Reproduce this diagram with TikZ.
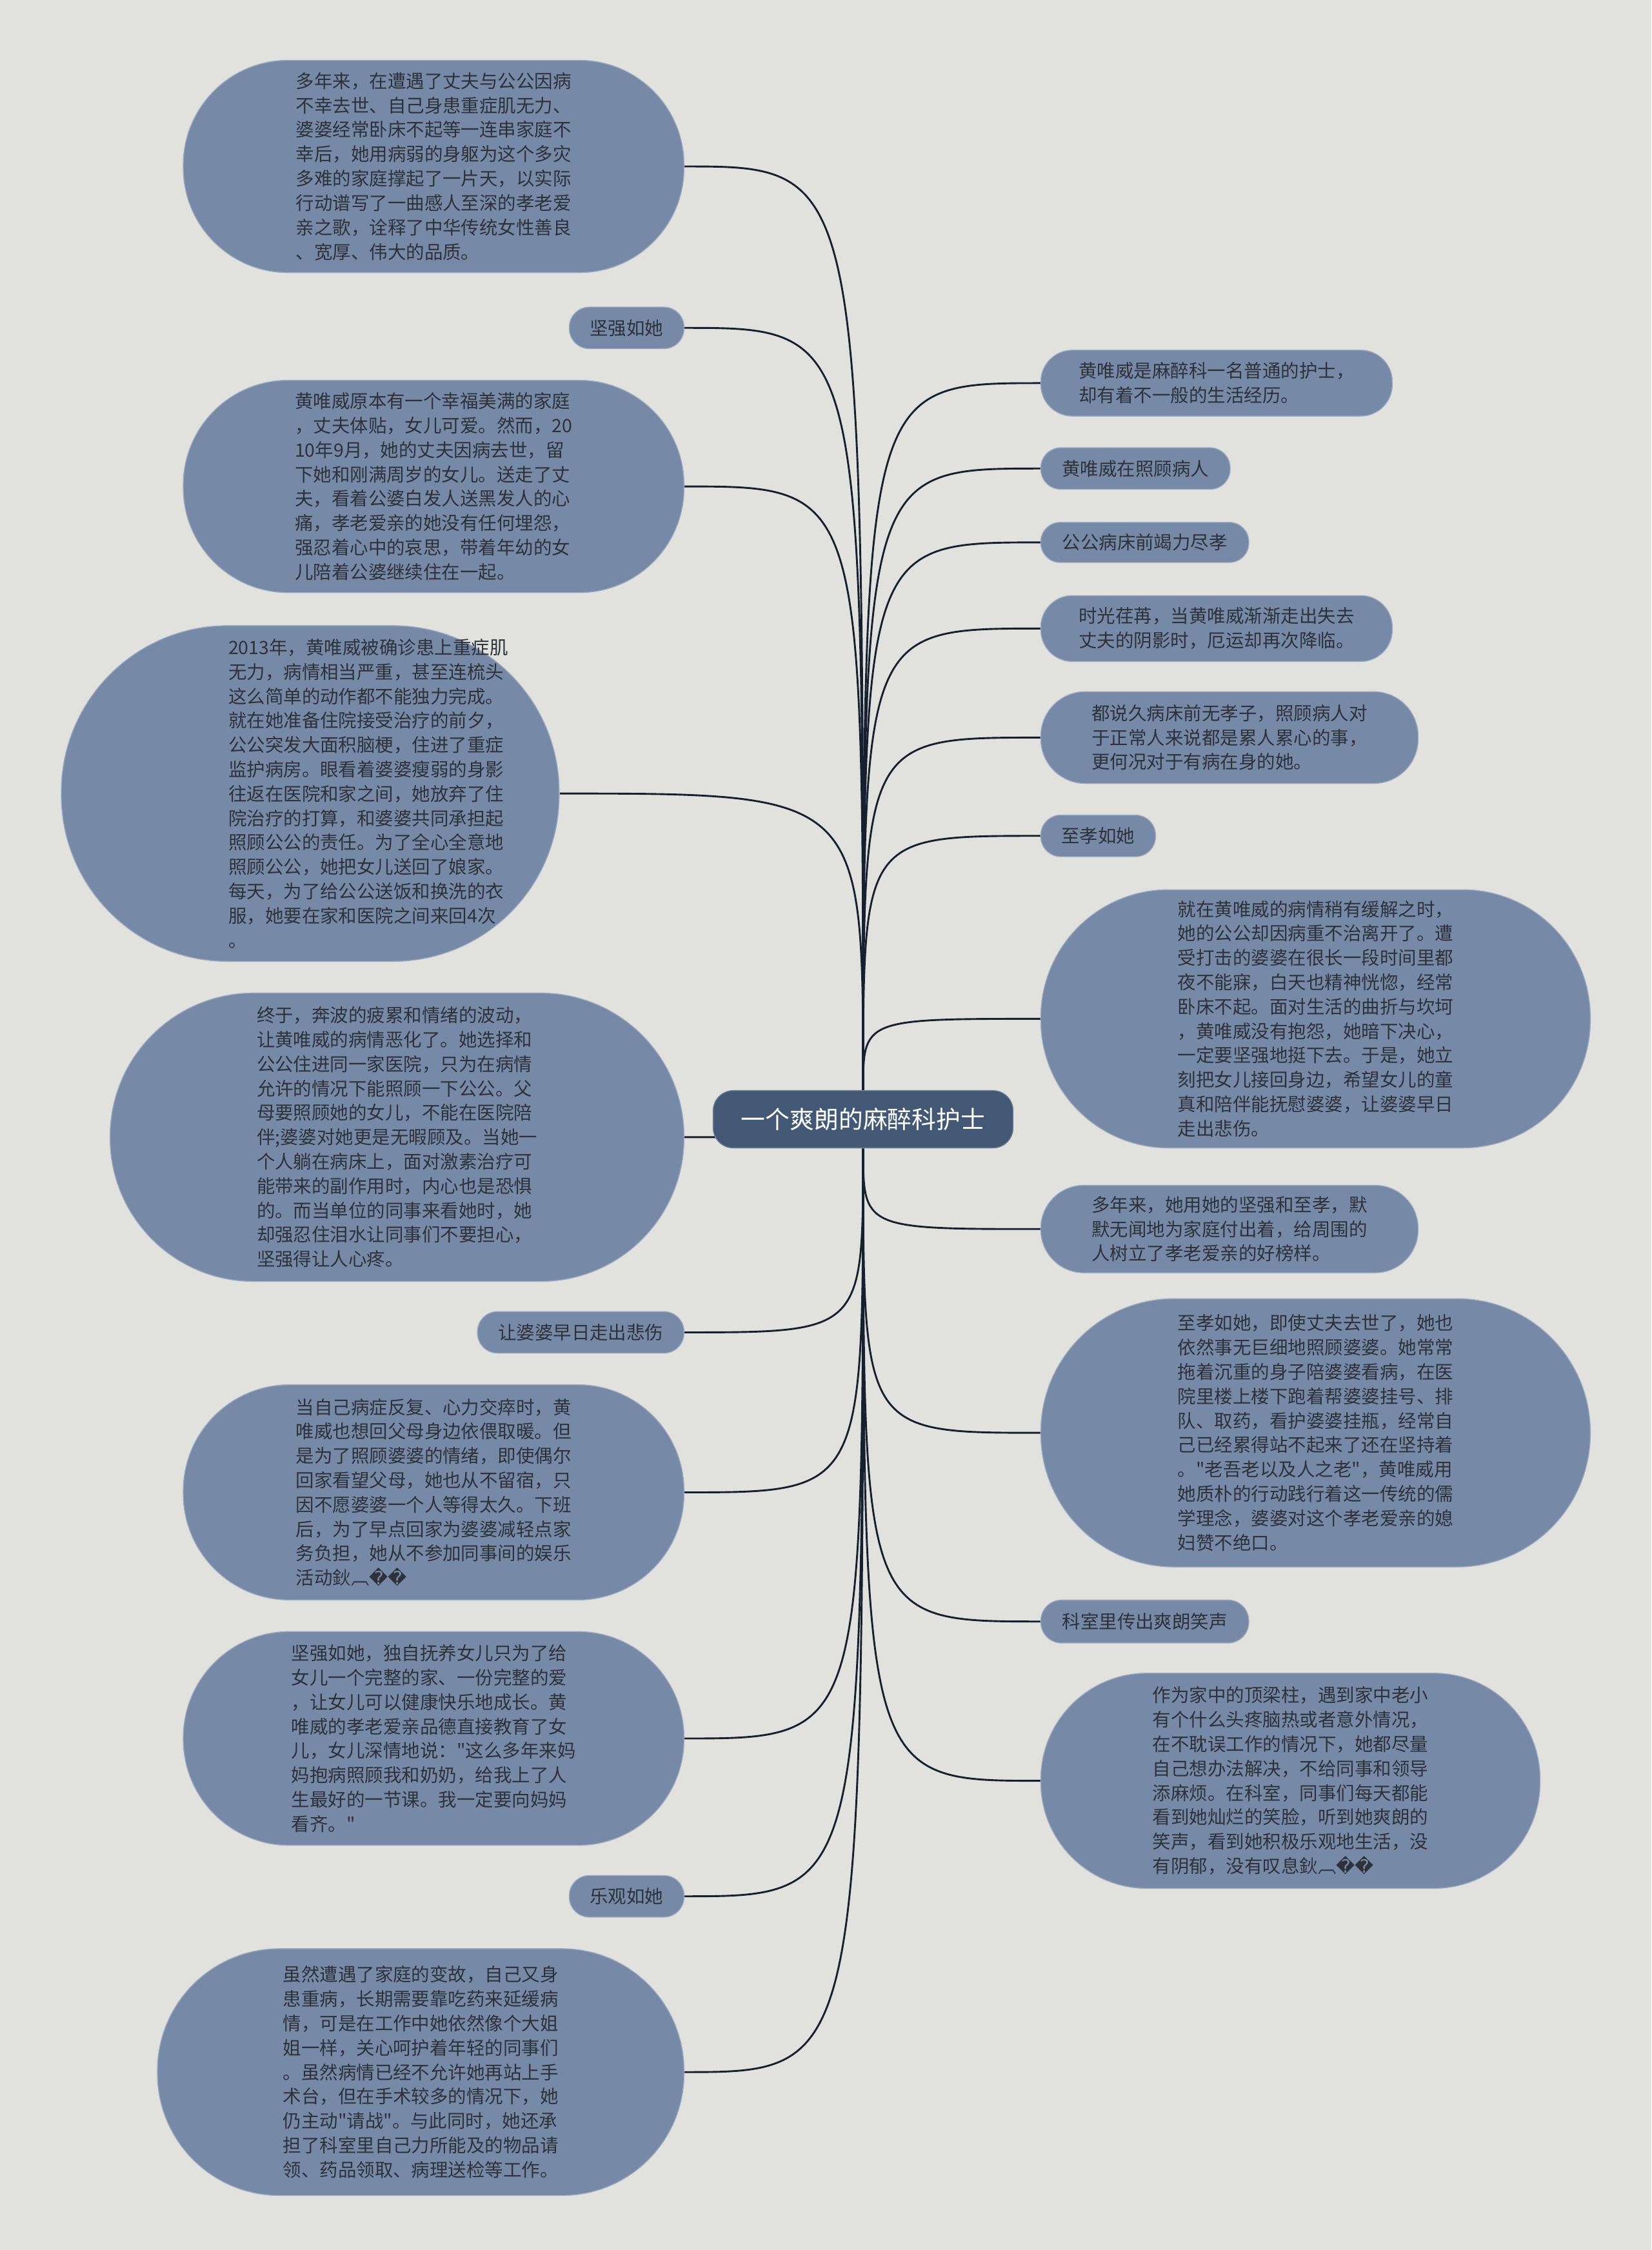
\documentclass[tikz,border=0pt]{standalone}
\usepackage{fontspec}
\newfontfamily\cjk{Noto Sans CJK SC}
\newfontfamily\symf{DejaVu Sans}
\newcommand\garb{{\symf ^^^^fffd^^^^fffd}}
\definecolor{bgcol}{HTML}{E1E2DE}
\definecolor{nodecol}{HTML}{7689A7}
\definecolor{rootcol}{HTML}{425875}
\definecolor{textcol}{HTML}{2D323A}
\definecolor{linecol}{HTML}{16202E}
\pgfdeclarelayer{back}
\pgfdeclarelayer{wires}
\pgfsetlayers{back,wires,main}
\tikzstyle{kid} = [shape=rectangle, fill=nodecol,
		draw=white!30!nodecol, line width=0.6pt,
		text=textcol, align=left, inner sep=0pt,
		font=\cjk\fontsize{12.8pt}{17pt}\selectfont]
\tikzstyle{root} = [shape=rectangle, rounded corners=14pt,
		fill=rootcol, draw=white!25!rootcol, line width=0.6pt,
		text=white, inner sep=0pt,
		minimum width=209pt, minimum height=40pt,
		font=\cjk\fontsize{17pt}{20pt}\selectfont]
\tikzstyle{conn} = [draw=linecol, line width=1.3pt]

\begin{document}
\begin{tikzpicture}[x=1pt,y=-1pt]
	\begin{pgfonlayer}{back}
		\fill[bgcol] (0,0) rectangle (1151,1568);
	\end{pgfonlayer}

	\node[root] (root) at (601.5,780) {一个爽朗的麻醉科护士};

	% left side
	\node[kid, anchor=east, minimum width=349pt, minimum height=148pt, rounded corners=73pt] (l1) at (477,116)
	{多年来，在遭遇了丈夫与公公因病\\不幸去世、自己身患重症肌无力、\\婆婆经常卧床不起等一连串家庭不\\幸后，她用病弱的身躯为这个多灾\\多难的家庭撑起了一片天，以实际\\行动谱写了一曲感人至深的孝老爱\\亲之歌，诠释了中华传统女性善良\\、宽厚、伟大的品质。};
	\node[kid, anchor=east, minimum width=80pt, minimum height=29pt, rounded corners=14pt] (l2) at (477,228.5) {坚强如她};
	\node[kid, anchor=east, minimum width=349pt, minimum height=148pt, rounded corners=73pt] (l3) at (477,339)
	{黄唯威原本有一个幸福美满的家庭\\，丈夫体贴，女儿可爱。然而，20\\10年9月，她的丈夫因病去世，留\\下她和刚满周岁的女儿。送走了丈\\夫，看着公婆白发人送黑发人的心\\痛，孝老爱亲的她没有任何埋怨，\\强忍着心中的哀思，带着年幼的女\\儿陪着公婆继续住在一起。};
	\node[kid, anchor=east, minimum width=347pt, minimum height=234pt, rounded corners=116pt, text width=274pt] (l4) at (390,553)
	{\leftskip=80pt 2013年，黄唯威被确诊患上重症肌\\无力，病情相当严重，甚至连梳头\\这么简单的动作都不能独力完成。\\就在她准备住院接受治疗的前夕，\\公公突发大面积脑梗，住进了重症\\监护病房。眼看着婆婆瘦弱的身影\\往返在医院和家之间，她放弃了住\\院治疗的打算，和婆婆共同承担起\\照顾公公的责任。为了全心全意地\\照顾公公，她把女儿送回了娘家。\\每天，为了给公公送饭和换洗的衣\\服，她要在家和医院之间来回4次\\。\par};
	\node[kid, anchor=east, minimum width=400pt, minimum height=201pt, rounded corners=100pt] (l5) at (477,792.5)
	{终于，奔波的疲累和情绪的波动，\\让黄唯威的病情恶化了。她选择和\\公公住进同一家医院，只为在病情\\允许的情况下能照顾一下公公。父\\母要照顾她的女儿，不能在医院陪\\伴;婆婆对她更是无暇顾及。当她一\\个人躺在病床上，面对激素治疗可\\能带来的副作用时，内心也是恐惧\\的。而当单位的同事来看她时，她\\却强忍住泪水让同事们不要担心，\\坚强得让人心疼。};
	\node[kid, anchor=east, minimum width=144pt, minimum height=29pt, rounded corners=14pt] (l6) at (477,928.5) {让婆婆早日走出悲伤};
	\node[kid, anchor=east, minimum width=349pt, minimum height=150pt, rounded corners=74pt] (l7) at (477,1040)
	{当自己病症反复、心力交瘁时，黄\\唯威也想回父母身边依偎取暖。但\\是为了照顾婆婆的情绪，即使偶尔\\回家看望父母，她也从不留宿，只\\因不愿婆婆一个人等得太久。下班\\后，为了早点回家为婆婆减轻点家\\务负担，她从不参加同事间的娱乐\\活动鈥︹\garb};
	\node[kid, anchor=east, minimum width=349pt, minimum height=149pt, rounded corners=74pt] (l8) at (477,1211.5)
	{坚强如她，独自抚养女儿只为了给\\女儿一个完整的家、一份完整的爱\\，让女儿可以健康快乐地成长。黄\\唯威的孝老爱亲品德直接教育了女\\儿，女儿深情地说："这么多年来妈\\妈抱病照顾我和奶奶，给我上了人\\生最好的一节课。我一定要向妈妈\\看齐。"};
	\node[kid, anchor=east, minimum width=80pt, minimum height=29pt, rounded corners=14pt] (l9) at (477,1321.5) {乐观如她};
	\node[kid, anchor=east, minimum width=367pt, minimum height=172pt, rounded corners=85pt] (l10) at (477,1444)
	{虽然遭遇了家庭的变故，自己又身\\患重病，长期需要靠吃药来延缓病\\情，可是在工作中她依然像个大姐\\姐一样，关心呵护着年轻的同事们\\。虽然病情已经不允许她再站上手\\术台，但在手术较多的情况下，她\\仍主动"请战"。与此同时，她还承\\担了科室里自己力所能及的物品请\\领、药品领取、病理送检等工作。};

	% right side
	\node[kid, anchor=west, minimum width=245pt, minimum height=46pt, rounded corners=22pt] (r1) at (725,267)
	{黄唯威是麻醉科一名普通的护士，\\却有着不一般的生活经历。};
	\node[kid, anchor=west, minimum width=132pt, minimum height=29pt, rounded corners=14pt] (r2) at (725,326.5) {黄唯威在照顾病人};
	\node[kid, anchor=west, minimum width=145pt, minimum height=28pt, rounded corners=13.5pt] (r3) at (725,378) {公公病床前竭力尽孝};
	\node[kid, anchor=west, minimum width=245pt, minimum height=46pt, rounded corners=22pt] (r4) at (725,438)
	{时光荏苒，当黄唯威渐渐走出失去\\丈夫的阴影时，厄运却再次降临。};
	\node[kid, anchor=west, minimum width=263pt, minimum height=64pt, rounded corners=31pt] (r5) at (725,514)
	{都说久病床前无孝子，照顾病人对\\于正常人来说都是累人累心的事，\\更何况对于有病在身的她。};
	\node[kid, anchor=west, minimum width=80pt, minimum height=29pt, rounded corners=14pt] (r6) at (725,582.5) {至孝如她};
	\node[kid, anchor=west, minimum width=383pt, minimum height=180pt, rounded corners=89pt] (r7) at (725,710)
	{就在黄唯威的病情稍有缓解之时，\\她的公公却因病重不治离开了。遭\\受打击的婆婆在很长一段时间里都\\夜不能寐，白天也精神恍惚，经常\\卧床不起。面对生活的曲折与坎坷\\，黄唯威没有抱怨，她暗下决心，\\一定要坚强地挺下去。于是，她立\\刻把女儿接回身边，希望女儿的童\\真和陪伴能抚慰婆婆，让婆婆早日\\走出悲伤。};
	\node[kid, anchor=west, minimum width=263pt, minimum height=61pt, rounded corners=30pt] (r8) at (725,856.5)
	{多年来，她用她的坚强和至孝，默\\默无闻地为家庭付出着，给周围的\\人树立了孝老爱亲的好榜样。};
	\node[kid, anchor=west, minimum width=383pt, minimum height=187pt, rounded corners=93pt] (r9) at (725,998.5)
	{至孝如她，即使丈夫去世了，她也\\依然事无巨细地照顾婆婆。她常常\\拖着沉重的身子陪婆婆看病，在医\\院里楼上楼下跑着帮婆婆挂号、排\\队、取药，看护婆婆挂瓶，经常自\\己已经累得站不起来了还在坚持着\\。"老吾老以及人之老"，黄唯威用\\她质朴的行动践行着这一传统的儒\\学理念，婆婆对这个孝老爱亲的媳\\妇赞不绝口。};
	\node[kid, anchor=west, minimum width=145pt, minimum height=30pt, rounded corners=14.5pt] (r10) at (725,1130) {科室里传出爽朗笑声};
	\node[kid, anchor=west, minimum width=348pt, minimum height=150pt, rounded corners=74pt] (r11) at (725,1241)
	{作为家中的顶梁柱，遇到家中老小\\有个什么头疼脑热或者意外情况，\\在不耽误工作的情况下，她都尽量\\自己想办法解决，不给同事和领导\\添麻烦。在科室，同事们每天都能\\看到她灿烂的笑脸，听到她爽朗的\\笑声，看到她积极乐观地生活，没\\有阴郁，没有叹息鈥︹\garb};

	\begin{pgfonlayer}{wires}
	\draw[conn] (root.north) .. controls (root.north |- l1.east) .. (l1.east);
	\draw[conn] (root.north) .. controls (root.north |- l2.east) .. (l2.east);
	\draw[conn] (root.north) .. controls (root.north |- l3.east) .. (l3.east);
	\draw[conn] (root.north) .. controls (root.north |- l4.east) .. (l4.east);
	\draw[conn] (root.south) .. controls (root.south |- l5.east) .. (l5.east);
	\draw[conn] (root.south) .. controls (root.south |- l6.east) .. (l6.east);
	\draw[conn] (root.south) .. controls (root.south |- l7.east) .. (l7.east);
	\draw[conn] (root.south) .. controls (root.south |- l8.east) .. (l8.east);
	\draw[conn] (root.south) .. controls (root.south |- l9.east) .. (l9.east);
	\draw[conn] (root.south) .. controls (root.south |- l10.east) .. (l10.east);
	\draw[conn] (root.north) .. controls (root.north |- r1.west) .. (r1.west);
	\draw[conn] (root.north) .. controls (root.north |- r2.west) .. (r2.west);
	\draw[conn] (root.north) .. controls (root.north |- r3.west) .. (r3.west);
	\draw[conn] (root.north) .. controls (root.north |- r4.west) .. (r4.west);
	\draw[conn] (root.north) .. controls (root.north |- r5.west) .. (r5.west);
	\draw[conn] (root.north) .. controls (root.north |- r6.west) .. (r6.west);
	\draw[conn] (root.north) .. controls (root.north |- r7.west) .. (r7.west);
	\draw[conn] (root.south) .. controls (root.south |- r8.west) .. (r8.west);
	\draw[conn] (root.south) .. controls (root.south |- r9.west) .. (r9.west);
	\draw[conn] (root.south) .. controls (root.south |- r10.west) .. (r10.west);
	\draw[conn] (root.south) .. controls (root.south |- r11.west) .. (r11.west);
	\end{pgfonlayer}
\end{tikzpicture}
\end{document}
